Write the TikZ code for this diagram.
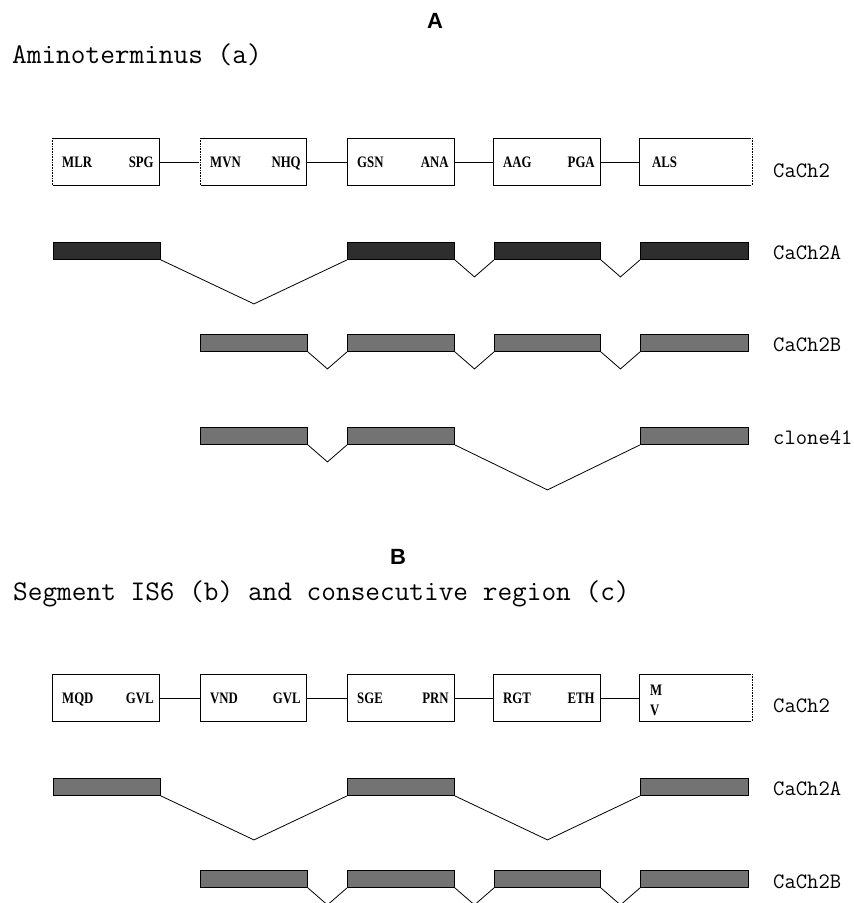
\documentclass[tikz,border=0pt]{standalone}
\usepackage{fontspec}
\setmainfont{Liberation Serif}
\newfontfamily\aafont[FakeStretch=0.8]{Liberation Serif}
\newfontfamily\panelfont{Liberation Sans}
\usetikzlibrary{calc}
\tikzset{
  aabox/.style={rectangle, draw, line width=0.9pt, minimum height=47pt, inner sep=0pt, anchor=north west},
  aa/.style={font=\aafont\bfseries\fontsize{16}{16}\selectfont, inner sep=0pt},
  link/.style={line width=0.9pt},
  exon/.style={rectangle, draw, line width=0.9pt, fill=black!55, minimum height=17pt, inner sep=0pt, anchor=north west},
  splice/.style={line width=0.8pt},
  track/.style={font=\ttfamily\fontsize{22}{22}\selectfont, anchor=base west, inner sep=0pt},
  heading/.style={font=\ttfamily\fontsize{28.5}{30}\selectfont, anchor=base west, inner sep=0pt},
  panel/.style={font=\panelfont\bfseries\fontsize{22}{22}\selectfont, anchor=base, inner sep=0pt}
}

\begin{document}
\begin{tikzpicture}[x=1pt,y=-1pt]
    \path[use as bounding box] (0,0) rectangle (854,903);
    \clip (0,0) rectangle (854,903);
    \fill[white] (0,0) rectangle (854,903);

    % panel A
    \node[panel] (pA) at (435,28) {A};
    \node[heading] (hA) at (12,63) {Aminoterminus (a)};

    \foreach \i/\x/\w in {1/52/107, 2/200/106, 3/347/107, 4/493/107, 5/639/112}
        \node[aabox, minimum width=\w pt] (dA\i) at (\x,138) {};
    \foreach \i/\l/\r in {1/MLR/SPG, 2/MVN/NHQ, 3/GSN/ANA, 4/AAG/PGA}{
        \node[aa, anchor=base west] (lA\i) at ([xshift=10pt,yshift=-6pt]dA\i.west) {\l};
        \node[aa, anchor=base east] (rA\i) at ([xshift=-6pt,yshift=-6pt]dA\i.east) {\r};
    }
    \node[aa, anchor=base west] (lA5) at ([xshift=13pt,yshift=-6pt]dA5.west) {ALS};
    \foreach \i [count=\j from 2] in {1,...,4}
        \draw[link] (dA\i.east) -- (dA\j.west);

    \foreach \c/\x/\w in {1/53/107, 3/347/107, 4/494/106, 5/640/108}
        \node[exon, fill=black!82, minimum width=\w pt] (aA\c) at (\x,242) {};
    \foreach \c/\x/\w in {2/200/107, 3/347/107, 4/494/106, 5/640/108}
        \node[exon, minimum width=\w pt] (bA\c) at (\x,334) {};
    \foreach \c/\x/\w in {2/200/107, 3/347/107, 5/640/108}
        \node[exon, minimum width=\w pt] (cA\c) at (\x,427) {};

    \node[track] (tA0) at (773,177) {CaCh2};
    \node[track] (tA1) at (773,259) {CaCh2A};
    \node[track] (tA2) at (773,351) {CaCh2B};
    \node[track] (tA3) at (773,444) {clone41};

    % panel B
    \node[panel] (pB) at (398,564) {B};
    \node[heading] (hB) at (13,600) {Segment IS6 (b) and consecutive region (c)};

    \foreach \i/\x/\w in {1/52/107, 2/200/106, 3/347/107, 4/493/107, 5/639/112}
        \node[aabox, minimum width=\w pt] (dB\i) at (\x,674) {};
    \foreach \i/\l/\r in {1/MQD/GVL, 2/VND/GVL, 3/SGE/PRN, 4/RGT/ETH}{
        \node[aa, anchor=base west] (lB\i) at ([xshift=10pt,yshift=-6pt]dB\i.west) {\l};
        \node[aa, anchor=base east] (rB\i) at ([xshift=-6pt,yshift=-6pt]dB\i.east) {\r};
    }
    \node[aa, anchor=base west] (lB5) at ([xshift=11pt,yshift=2.5pt]dB5.west) {M};
    \node[aa, anchor=base west] (mB5) at ([xshift=11pt,yshift=-17.5pt]dB5.west) {V};
    \foreach \i [count=\j from 2] in {1,...,4}
        \draw[link] (dB\i.east) -- (dB\j.west);

    \foreach \c/\x/\w in {1/53/107, 3/347/107, 5/640/108}
        \node[exon, minimum width=\w pt] (aB\c) at (\x,778) {};
    \foreach \c/\x/\w in {2/200/107, 3/347/107, 4/494/106, 5/640/108}
        \node[exon, minimum width=\w pt] (bB\c) at (\x,870) {};

    \node[track] (tB0) at (773,712) {CaCh2};
    \node[track] (tB1) at (773,795) {CaCh2A};
    \node[track] (tB2) at (773,888) {CaCh2B};

    % open ends of the first and last domains
    \foreach \b/\e in {dA1/west, dA2/west, dA5/east, dB5/east}{
        \draw[white, line width=1.6pt] (\b.north \e) -- (\b.south \e);
        \draw[densely dotted, line width=0.6pt] (\b.north \e) -- (\b.south \e);
    }

    % splicing
    \foreach \p/\q/\d in {aA1/aA3/44, aA3/aA4/17, aA4/aA5/17,
                          bA2/bA3/17, bA3/bA4/17, bA4/bA5/17,
                          cA2/cA3/17, cA3/cA5/45,
                          aB1/aB3/44, aB3/aB5/44,
                          bB2/bB3/17, bB3/bB4/17, bB4/bB5/17}
        \draw[splice] (\p.south east) -- ($(\p.south east)!.5!(\q.south west)+(0,\d)$) -- (\q.south west);
\end{tikzpicture}
\end{document}
